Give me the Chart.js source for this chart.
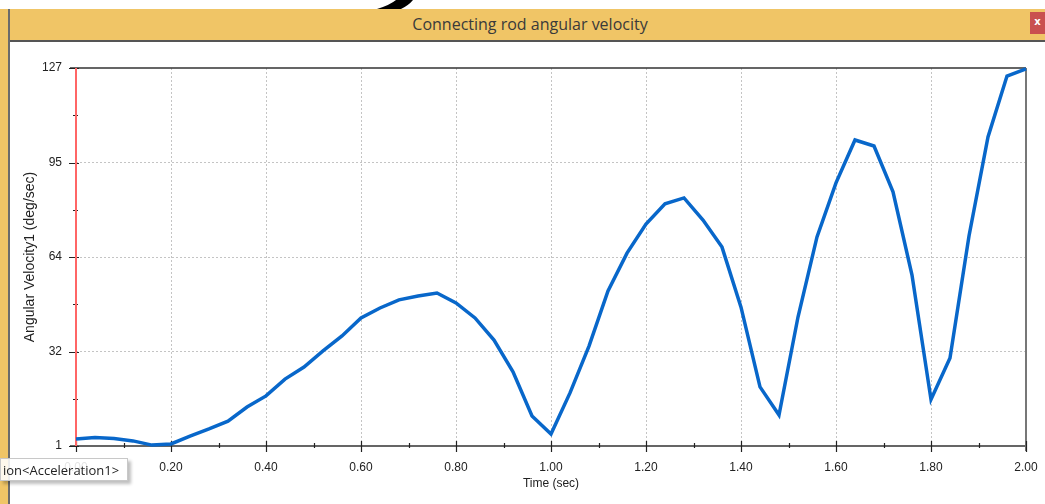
<!DOCTYPE html>
<html>
<head>
<meta charset="utf-8">
<script src="https://cdn.jsdelivr.net/npm/chart.js@4.4.0/dist/chart.umd.min.js"></script>
<style>
  html, body { margin: 0; padding: 0; background: #fff; }
  #wrap { position: relative; width: 1045px; height: 504px; overflow: hidden; background: #fff; }
  #titlebar { position: absolute; left: 0; top: 9px; width: 1045px; height: 31px; background: #F0C566; }
  #titletext { position: absolute; left: 0; top: 9px; width: 1060px; height: 31px; line-height: 30px; text-align: center;
    font-family: "Open Sans", sans-serif; font-size: 16px; color: #3a3a3a; }
  #close { position: absolute; left: 1030px; top: 12px; width: 15px; height: 22px; background: #C9504F; color: #fff;
    font: bold 10px "DejaVu Sans", sans-serif; line-height: 20px; text-align: center; }
  #leftbar { position: absolute; left: 0; top: 9px; width: 8px; height: 495px; background: #F0C566; border-right: 2px solid #6b6b6b; }
  #topline { position: absolute; left: 10px; top: 40px; width: 1035px; height: 2px; background: #555; }
  #tip { position: absolute; left: 0; top: 458px; width: 128px; height: 23px; background: rgba(255,255,255,0.88);
    border: 1px solid #c8c8c8; box-shadow: 3px 3px 3px rgba(0,0,0,0.25);
    font-family: "Open Sans", sans-serif; font-size: 13px; color: #222; line-height: 22px; padding-left: 2px; box-sizing: border-box; }
  canvas { position: absolute; left: 0; top: 0; }
</style>
</head>
<body>
<div id="wrap">
  <svg style="position:absolute;left:0;top:0" width="1045" height="20">
    <path d="M396 0 L413 0 Q404 11 381 15 Q374 15 377 9 Q390 5 396 0 Z" fill="#000"/>
  </svg>
  <div id="titlebar"></div>
  <div id="titletext">Connecting rod angular velocity</div>
  <div id="close">x</div>
  <div id="leftbar"></div>
  <div id="topline"></div>
  <canvas id="chart" width="1045" height="504"></canvas>
  <div id="tip">ion&lt;Acceleration1&gt;</div>
</div>
<script>
const times = [0, 0.04, 0.08, 0.12, 0.16, 0.20, 0.24, 0.28, 0.32, 0.36, 0.40, 0.44, 0.48, 0.52, 0.56, 0.60,
  0.64, 0.68, 0.72, 0.76, 0.80, 0.84, 0.88, 0.92, 0.96, 1.00, 1.04, 1.08, 1.12, 1.16, 1.20, 1.24, 1.28, 1.32,
  1.36, 1.40, 1.44, 1.48, 1.52, 1.56, 1.60, 1.64, 1.68, 1.72, 1.76, 1.80, 1.84, 1.88, 1.92, 1.96, 2.00];
const velocity = [3.3, 3.8, 3.5, 2.7, 1.3, 1.7, 4.3, 6.7, 9.3, 14, 17.7, 23.3, 27.3, 32.7, 37.7, 43.7,
  47, 49.7, 51, 52, 48.7, 43.7, 36.3, 25.7, 11, 5, 18.7, 34.3, 52.7, 65.3, 75, 81.7, 83.7, 76.3,
  67.3, 47.3, 20.7, 11.3, 44, 70.7, 88.7, 103, 101, 85.7, 58, 16.5, 30.3, 71, 104, 124.3, 126.7];

const xTicks = [0, 0.1, 0.2, 0.3, 0.4, 0.5, 0.6, 0.7, 0.8, 0.9, 1.0, 1.1, 1.2, 1.3, 1.4, 1.5, 1.6, 1.7, 1.8, 1.9, 2.0];
const xTickLabels = ['0.00', '', '0.20', '', '0.40', '', '0.60', '', '0.80', '', '1.00', '', '1.20', '', '1.40', '', '1.60', '', '1.80', '', '2.00'];
const yTicks = [1, 16.75, 32.5, 48.25, 64, 79.75, 95.5, 111.25, 127];
const yTickLabels = ['1', '', '32', '', '64', '', '95', '', '127'];

const tickFont = { family: "'Liberation Sans', Arial, sans-serif", size: 12 };

// axis lines and crossing tick marks, like the original plot
const axesPlugin = {
  id: 'axes',
  beforeDatasetsDraw(chart) {
    const ctx = chart.ctx, x = chart.scales.x, y = chart.scales.y;
    const x0 = x.getPixelForValue(0), x1 = x.getPixelForValue(2);
    const yb = y.getPixelForValue(1), yt = y.getPixelForValue(127);
    ctx.save();
    ctx.lineWidth = 1.5;
    ctx.strokeStyle = '#333';
    ctx.beginPath();
    ctx.moveTo(x0 - 6, yb); ctx.lineTo(x1, yb);
    ctx.moveTo(x0 - 6, yt); ctx.lineTo(x1, yt);
    ctx.stroke();
    ctx.strokeStyle = '#777';
    ctx.lineWidth = 2;
    ctx.beginPath();
    ctx.moveTo(x1, yt); ctx.lineTo(x1, yb + 5);
    ctx.stroke();
    ctx.lineWidth = 1.2;
    ctx.strokeStyle = '#222';
    ctx.beginPath();
    xTicks.forEach((v, i) => {
      const px = Math.round(x.getPixelForValue(v)) + 0.5;
      if (i % 2 === 0) { ctx.moveTo(px, yb - 5); ctx.lineTo(px, yb + 6); }
      else { ctx.moveTo(px, yb - 3); ctx.lineTo(px, yb + 2); }
    });
    yTicks.forEach((v, i) => {
      const py = Math.round(y.getPixelForValue(v)) + 0.5;
      if (i % 2 === 0) { ctx.moveTo(x0 - 7, py); ctx.lineTo(x0 + 3, py); }
      else { ctx.moveTo(x0 - 3, py); ctx.lineTo(x0 + 2, py); }
    });
    ctx.stroke();
    ctx.strokeStyle = '#FF6666';
    ctx.lineWidth = 2;
    ctx.beginPath();
    ctx.moveTo(x0, yt); ctx.lineTo(x0, yb);
    ctx.stroke();
    ctx.restore();
  }
};

new Chart(document.getElementById('chart'), {
  type: 'line',
  data: {
    datasets: [{
      label: 'Angular Velocity1',
      data: times.map((t, i) => ({ x: t, y: velocity[i] })),
      borderColor: '#0867CA',
      borderWidth: 3.5,
      pointRadius: 0,
      tension: 0,
      clip: false
    }]
  },
  options: {
    responsive: false,
    animation: false,
    devicePixelRatio: 1,
    layout: { padding: { top: 68, right: 19, left: 0, bottom: 0 } },
    plugins: { legend: { display: false }, tooltip: { enabled: false } },
    scales: {
      x: {
        type: 'linear',
        min: 0,
        max: 2,
        afterBuildTicks: (scale) => { scale.ticks = xTicks.map(v => ({ value: v })); },
        afterFit: (scale) => { scale.height = 58; scale.paddingLeft = 0; scale.paddingRight = 0; },
        ticks: {
          autoSkip: false,
          maxRotation: 0,
          padding: 14,
          color: '#222',
          font: tickFont,
          callback: (v, i) => xTickLabels[i]
        },
        grid: {
          drawTicks: false,
          lineWidth: 1,
          color: (c) => (c.index % 2 === 0 && c.index > 0 && c.index < xTicks.length - 1) ? '#c4c4c4' : 'transparent'
        },
        border: { display: false, dash: [2, 2] },
        title: {
          display: true,
          text: 'Time (sec)',
          color: '#222',
          font: tickFont,
          padding: { top: 0, bottom: 13 }
        }
      },
      y: {
        type: 'linear',
        min: 1,
        max: 127,
        afterBuildTicks: (scale) => { scale.ticks = yTicks.map(v => ({ value: v })); },
        afterFit: (scale) => { scale.width = 76; scale.paddingTop = 0; scale.paddingBottom = 0; },
        ticks: {
          autoSkip: false,
          padding: 14,
          color: '#222',
          font: tickFont,
          callback: (v, i) => yTickLabels[i]
        },
        grid: {
          drawTicks: false,
          lineWidth: 1,
          color: (c) => (c.index % 2 === 0 && c.index > 0 && c.index < yTicks.length - 1) ? '#c4c4c4' : 'transparent'
        },
        border: { display: false, dash: [2, 2] },
        title: {
          display: true,
          text: 'Angular Velocity1 (deg/sec)',
          color: '#222',
          font: { family: "'Liberation Sans', Arial, sans-serif", size: 14 },
          padding: { top: 22, bottom: 0 }
        }
      }
    }
  },
  plugins: [axesPlugin]
});
</script>
</body>
</html>
